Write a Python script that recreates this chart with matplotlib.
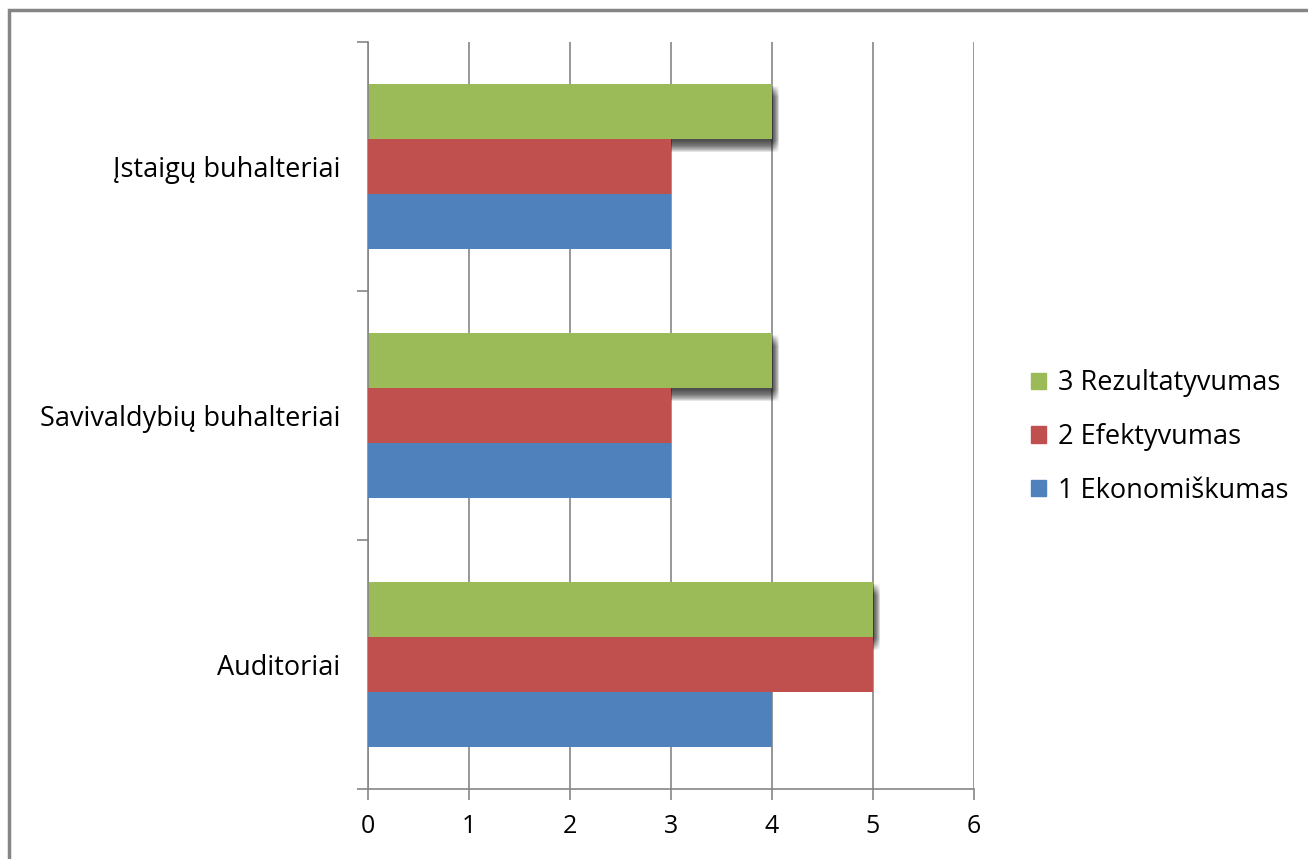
import numpy as np
import matplotlib.pyplot as plt
import matplotlib.patheffects as pe
from matplotlib.patches import Rectangle, Patch

# Duomenys
kategorijos = ["Auditoriai", "Savivaldybių buhalteriai", "Įstaigų buhalteriai"]
ekonomiskumas = [4, 3, 3]
efektyvumas = [5, 3, 3]
rezultatyvumas = [5, 4, 4]
serijos = ["1 Ekonomiškumas", "2 Efektyvumas", "3 Rezultatyvumas"]
spalvos = ["#4F81BD", "#C0504D", "#9BBB59"]
x_zymes = [0, 1, 2, 3, 4, 5, 6]

plt.rcParams['font.family'] = ['Open Sans', 'DejaVu Sans']

fig = plt.figure(figsize=(13.08, 8.59), dpi=100)
ax = fig.add_axes([368 / 1308, 70 / 859, 606 / 1308, 747 / 859])

y = np.arange(len(kategorijos))
h = 0.22

# minkstas seselis: daug labai permatomu sluoksniu (poslinkis pikseliais -> taskais)
seselis = [pe.SimplePatchShadow(offset=(dx * 0.72, -dy * 0.72), shadow_rgbFace="#3a3a3a", alpha=0.016)
           for dx in range(0, 8) for dy in range(2, 14)]

# zalias pirma, kad jo seselis liktu po raudonais stulpeliais
b3 = ax.barh(y + h, rezultatyvumas, h, color=spalvos[2], zorder=2)
for p in b3:
    p.set_path_effects(seselis + [pe.Normal()])
b2 = ax.barh(y, efektyvumas, h, color=spalvos[1], zorder=3)
b1 = ax.barh(y - h, ekonomiskumas, h, color=spalvos[0], zorder=3)

ax.set_xlim(0, 6)
ax.set_ylim(-0.5, 2.5)
ax.set_xticks(x_zymes)
ax.set_xticklabels([str(v) for v in x_zymes], fontsize=18)
ax.set_yticks(y)
ax.set_yticklabels(kategorijos, fontsize=19.5)
ax.set_yticks([-0.5, 0.5, 1.5, 2.5], minor=True)
ax.tick_params(axis="y", which="major", length=0, pad=20)
ax.tick_params(axis="y", which="minor", length=8, color="#868686", width=1.2)
ax.tick_params(axis="x", length=8, color="#868686", width=1.2, pad=10)

ax.grid(axis="x", color="#868686", linewidth=1.2, zorder=0)
ax.set_axisbelow(True)
for s in ["top", "right"]:
    ax.spines[s].set_visible(False)
for s in ["left", "bottom"]:
    ax.spines[s].set_color("#868686")
    ax.spines[s].set_linewidth(1.2)

rankenos = [Patch(color=spalvos[i]) for i in [2, 1, 0]]
fig.legend(rankenos, [serijos[2], serijos[1], serijos[0]], loc="center left",
           bbox_to_anchor=(1007 / 1308, 1 - 437 / 859), frameon=False, fontsize=19.5,
           handlelength=0.55, handleheight=0.55, handletextpad=0.45, labelspacing=0.95)

# remelis aplink diagrama
fig.patches.append(Rectangle((9 / 1308, -0.1), 1.2, (859 - 10) / 859 + 0.1,
                             transform=fig.transFigure, fill=False,
                             edgecolor="#858585", linewidth=2.5))

fig.savefig("out.png", dpi=100)
